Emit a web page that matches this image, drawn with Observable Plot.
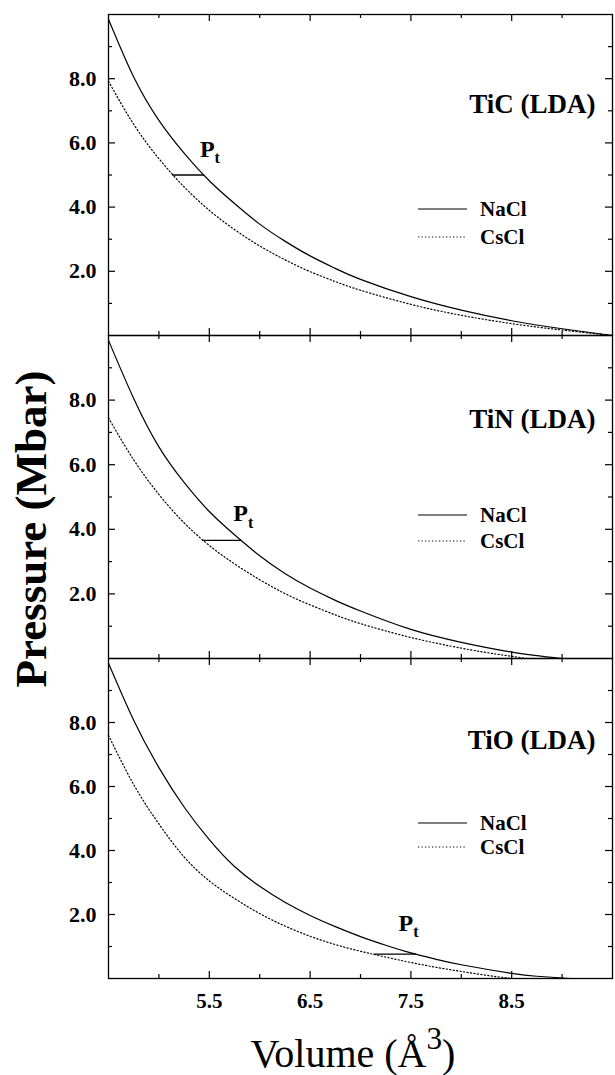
<!DOCTYPE html>
<html>
<head>
<meta charset="utf-8">
<script src="https://cdn.jsdelivr.net/npm/d3@7"></script>
<script src="https://cdn.jsdelivr.net/npm/@observablehq/plot@0.6"></script>
<style>
  html, body { margin: 0; padding: 0; background: #fff; }
  #fig { position: relative; width: 615px; height: 1075px; font-family: "Liberation Serif", "Times New Roman", serif; }
  #fig > svg { position: absolute; left: 0; overflow: visible; }
  #xtitle { position: absolute; left: 0; width: 706px; top: 1034px; text-align: center; font-size: 40px; line-height: 40px; color: #000; }
</style>
</head>
<body>
<div id="fig"></div>
<script>
// ---------- data ----------
const panels = ["TiC (LDA)", "TiN (LDA)", "TiO (LDA)"];
const phases = ["NaCl", "CsCl"];
const xMajor = [5.5, 6.5, 7.5, 8.5];
const xMinor = [5.0, 6.0, 7.0, 8.0, 9.0];
const yMajor = [2, 4, 6, 8];
const yMinor = [1, 3, 5, 7, 9];

// TiC
const ticNaClV = [4.5, 4.75, 5.0, 5.25, 5.5, 5.75, 6.0, 6.25, 6.5, 6.75, 7.0, 7.5, 8.0, 8.5, 9.0, 9.5];
const ticNaClP = [9.85, 8.05, 6.7, 5.68, 4.82, 4.11, 3.47, 2.94, 2.48, 2.09, 1.75, 1.21, 0.79, 0.46, 0.21, 0.0];
const ticCsClV = [4.5, 4.75, 5.0, 5.25, 5.5, 5.75, 6.0, 6.25, 6.5, 6.75, 7.0, 7.5, 8.0, 8.5, 9.0, 9.5];
const ticCsClP = [7.92, 6.58, 5.51, 4.63, 3.9, 3.3, 2.79, 2.36, 1.99, 1.68, 1.41, 0.97, 0.63, 0.37, 0.17, 0.0];
// TiN
const tinNaClV = [4.5, 4.75, 5.0, 5.25, 5.5, 5.75, 6.0, 6.25, 6.5, 6.75, 7.0, 7.5, 8.0, 8.5, 9.0];
const tinNaClP = [9.85, 8.05, 6.55, 5.45, 4.55, 3.83, 3.18, 2.63, 2.18, 1.8, 1.47, 0.9, 0.5, 0.2, 0.0];
const tinCsClV = [4.5, 4.75, 5.0, 5.25, 5.5, 5.75, 6.0, 6.25, 6.5, 6.75, 7.0, 7.5, 8.0, 8.3, 8.65];
const tinCsClP = [7.45, 6.15, 5.08, 4.2, 3.5, 2.93, 2.44, 2.01, 1.66, 1.35, 1.08, 0.65, 0.32, 0.16, 0.0];
// TiO
const tioNaClV = [4.5, 4.75, 5.0, 5.25, 5.5, 5.75, 6.0, 6.25, 6.5, 6.75, 7.0, 7.25, 7.5, 7.75, 8.0, 8.5, 8.75, 9.08];
const tioNaClP = [9.85, 8.07, 6.59, 5.36, 4.34, 3.5, 2.88, 2.38, 1.97, 1.62, 1.31, 1.04, 0.8, 0.6, 0.43, 0.16, 0.07, 0.0];
const tioCsClV = [4.5, 4.75, 5.0, 5.25, 5.5, 5.75, 6.0, 6.25, 6.5, 6.75, 7.0, 7.25, 7.5, 7.75, 8.0, 8.25, 8.5];
const tioCsClP = [7.6, 6.06, 4.83, 3.8, 3.05, 2.5, 2.03, 1.64, 1.32, 1.06, 0.85, 0.67, 0.5, 0.35, 0.22, 0.1, 0.0];

// transition pressure Pt (horizontal tie line between the two phases)
const ptPressure = [5.0, 3.66, 0.76];
const ptVolNaCl = [5.45, 5.82, 7.55];
const ptVolCsCl = [5.13, 5.43, 7.13];

// ---------- layout / style (not data) ----------
const curves = [
  [[ticNaClV, ticNaClP], [ticCsClV, ticCsClP]],
  [[tinNaClV, tinNaClP], [tinCsClV, tinCsClP]],
  [[tioNaClV, tioNaClP], [tioCsClV, tioCsClP]]
];
const W = 615, ML = 108, MR = 3;
const FW = W - ML - MR;              // frame width in px
const frameTop = [14, 335, 658];
const frameH = [321, 323, 320];
const titleDy = [98, 92, 90];
const legendRows = [[195, 223], [180, 206], [165, 189]];
const ptLabelOff = [{p: [3, -18], t: [13, -12]}, {p: [-1, -19], t: [9, -12]}, {p: [-10, -23], t: [0, -17]}];
const FONT = '"Liberation Serif", "Times New Roman", serif';
const DOT = "1.2,2.3";
const TICK = {stroke: "#000", strokeWidth: 1.2};
const fig = document.getElementById("fig");

// inward ticks on all four sides (tick marks shortened with insets)
function frameTickMarks(H) {
  const out = [];
  [[xMajor, 7], [xMinor, 4]].forEach(([ts, len]) => {
    out.push(Plot.tickX(ts, {x: d => d, insetTop: H - len, ...TICK}));      // bottom edge
    out.push(Plot.tickX(ts, {x: d => d, insetBottom: H - len, ...TICK}));   // top edge
  });
  [[yMajor, 7], [yMinor, 4]].forEach(([ts, len]) => {
    out.push(Plot.tickY(ts, {y: d => d, insetRight: FW - len, ...TICK}));   // left edge
    out.push(Plot.tickY(ts, {y: d => d, insetLeft: FW - len, ...TICK}));    // right edge
  });
  return out;
}

function legendMark(i) {
  return (index, scales, values, dims) => {
    const g = d3.create("svg:g");
    const right = dims.width - dims.marginRight;
    phases.forEach((ph, k) => {
      const y = dims.marginTop + legendRows[i][k];
      g.append("line")
        .attr("x1", right - 194).attr("x2", right - 145)
        .attr("y1", y).attr("y2", y)
        .attr("stroke", "#000").attr("stroke-width", 1.2)
        .attr("stroke-dasharray", k ? DOT : null);
      g.append("text")
        .attr("x", right - 132).attr("y", y + 7)
        .attr("text-anchor", "start")
        .attr("font-size", 21).attr("font-weight", "bold")
        .attr("fill", "#000").text(ph);
    });
    return g.node();
  };
}

panels.forEach((name, i) => {
  const mt = 20, mb = i === 2 ? 60 : 20;
  const pt = [{a: ptVolCsCl[i], b: ptVolNaCl[i], p: ptPressure[i]}];
  const marks = [
    Plot.axisY({anchor: "left", ticks: yMajor, tickSize: 0, tickPadding: 12, tickFormat: d3.format(".1f"),
                fontSize: 22, fontWeight: "bold", label: null}),
    Plot.axisX({anchor: "bottom", ticks: [], label: null}),
    ...curves[i].map(([V, P], k) => Plot.line(V.map((v, j) => ({v, p: P[j]})), {
      x: "v", y: "p", stroke: "#000", strokeWidth: 1.2, curve: "natural",
      strokeDasharray: k ? DOT : null
    })),
    Plot.link(pt, {x1: "a", x2: "b", y1: "p", y2: "p", stroke: "#000", strokeWidth: 1.3}),
    Plot.text(pt, {x: "b", y: "p", text: () => "P", dx: ptLabelOff[i].p[0], dy: ptLabelOff[i].p[1],
                   lineAnchor: "bottom", fontSize: 24, fontWeight: "bold", fill: "#000"}),
    Plot.text(pt, {x: "b", y: "p", text: () => "t", dx: ptLabelOff[i].t[0], dy: ptLabelOff[i].t[1],
                   lineAnchor: "bottom", fontSize: 16, fontWeight: "bold", fill: "#000"}),
    Plot.text([name], {text: d => d, frameAnchor: "top-right", textAnchor: "end", lineAnchor: "bottom",
                       dx: -17, dy: titleDy[i], fontSize: 27, fontWeight: "bold", fill: "#000"}),
    legendMark(i),
    ...frameTickMarks(frameH[i]),
    Plot.frame({stroke: "#000", strokeWidth: 1.3})
  ];
  if (i === 1) {
    marks.push(Plot.text(["Pressure (Mbar)"], {text: d => d, frameAnchor: "left", rotate: -90,
      textAnchor: "middle", lineAnchor: "bottom", dx: -63, dy: 32, fontSize: 45, fontWeight: "bold", fill: "#000"}));
  }
  if (i === 2) {
    marks.push(Plot.axisX({anchor: "bottom", ticks: xMajor, tickSize: 0, tickPadding: 15,
      tickFormat: d3.format(".1f"), fontSize: 21, fontWeight: "bold", label: null}));
  }
  const svg = Plot.plot({
    width: W,
    height: mt + frameH[i] + mb,
    marginTop: mt, marginBottom: mb, marginLeft: ML, marginRight: MR,
    x: {domain: [4.5, 9.5]},
    y: {domain: [0, 10]},
    style: {background: "none", overflow: "visible", fontFamily: FONT, color: "#000"},
    marks
  });
  svg.style.top = (frameTop[i] - mt) + "px";
  fig.appendChild(svg);
});

const xt = document.createElement("div");
xt.id = "xtitle";
xt.innerHTML = 'Volume (Å<span style="font-size:0.78em;position:relative;top:-0.58em">3</span>)';
fig.appendChild(xt);
</script>
</body>
</html>
